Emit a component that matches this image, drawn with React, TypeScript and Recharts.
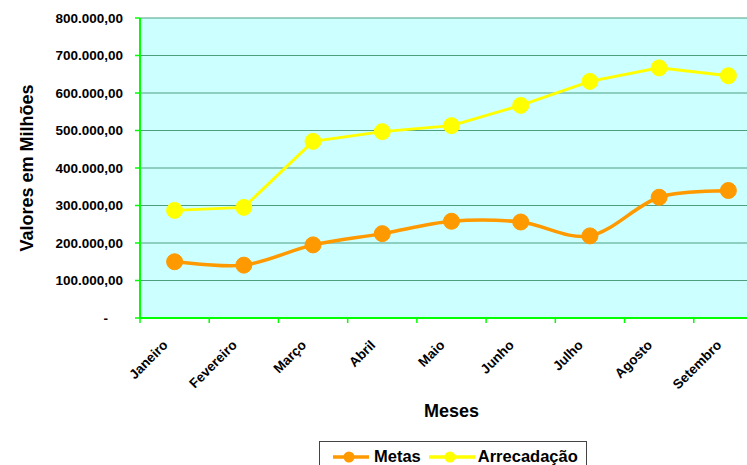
import { LineChart, Line, XAxis, YAxis, CartesianGrid, Legend, Label } from 'recharts'

const MONTHS = ['Janeiro', 'Fevereiro', 'Março', 'Abril', 'Maio', 'Junho', 'Julho', 'Agosto', 'Setembro']
const METAS = [150000, 141000, 195000, 225000, 258000, 256000, 219000, 322000, 340000]
const ARRECADACAO = [287000, 295000, 471000, 497000, 513000, 567000, 631000, 667000, 646000]
const Y_TICKS = [0, 100000, 200000, 300000, 400000, 500000, 600000, 700000, 800000]

const SERIES = [
  { key: 'metas', name: 'Metas', color: '#FF9900' },
  { key: 'arrecadacao', name: 'Arrecadação', color: '#FFFF00' },
]

const FONT = "'Liberation Sans', Arial, sans-serif"
const AXIS_GREEN = '#00FF00'
const GRID = '#4E9F80'

// one row per month, placed in the middle of its slot on a 0..n axis
const data = MONTHS.map((month, i) => ({
  pos: i + 0.5,
  month,
  metas: METAS[i],
  arrecadacao: ARRECADACAO[i],
}))
// integer ticks = slot boundaries (tick marks), half ticks = month labels
const xTicks = Array.from({ length: MONTHS.length * 2 + 1 }, (_, i) => i / 2)

const fmtValue = (v: number) => {
  const int = Math.round(v).toString().replace(/\B(?=(\d{3})+(?!\d))/g, '.')
  return `${int},00`
}

// Excel style smoothed line (cardinal / catmull-rom bezier)
const smoothCurve = (context: any) => {
  let pts: [number, number][] = []
  return {
    areaStart() {},
    areaEnd() {},
    lineStart() {
      pts = []
    },
    point(x: number, y: number) {
      pts.push([+x, +y])
    },
    lineEnd() {
      if (!pts.length) return
      context.moveTo(pts[0][0], pts[0][1])
      for (let i = 0; i < pts.length - 1; i++) {
        const p0 = pts[i - 1] || pts[i]
        const p1 = pts[i]
        const p2 = pts[i + 1]
        const p3 = pts[i + 2] || p2
        const t = 1 / 6
        context.bezierCurveTo(
          p1[0] + (p2[0] - p0[0]) * t,
          p1[1] + (p2[1] - p0[1]) * t,
          p2[0] - (p3[0] - p1[0]) * t,
          p2[1] - (p3[1] - p1[1]) * t,
          p2[0],
          p2[1]
        )
      }
    },
  }
}

function MonthTick({ x, y, payload }: any) {
  const v = payload.value
  if (Number.isInteger(v)) {
    return <line x1={x} y1={y} x2={x} y2={y + 5} stroke={AXIS_GREEN} strokeWidth={1.5} />
  }
  const tx = x - 6
  const ty = y + 28
  return (
    <text
      x={tx}
      y={ty}
      transform={`rotate(-45, ${tx}, ${ty})`}
      textAnchor="end"
      fontSize={13.5}
      fontWeight="bold"
      fontFamily={FONT}
      fill="#000"
    >
      {MONTHS[Math.floor(v)]}
    </text>
  )
}

function ValueTick({ x, y, payload }: any) {
  const v = payload.value
  return (
    <text
      x={v === 0 ? x - 15 : x}
      y={y}
      dy="0.35em"
      textAnchor="end"
      fontSize={13.5}
      fontWeight="bold"
      fontFamily={FONT}
      fill="#000"
    >
      {v === 0 ? '-' : fmtValue(v)}
    </text>
  )
}

function LegendBox() {
  return (
    <div
      style={{
        display: 'flex',
        alignItems: 'center',
        boxSizing: 'border-box',
        width: 268,
        height: 31,
        border: '1px solid #444',
        background: '#fff',
        paddingLeft: 13,
        fontFamily: FONT,
        fontWeight: 'bold',
        fontSize: 16.5,
        color: '#000',
      }}
    >
      {SERIES.map((s, i) => {
        const w = i === 0 ? 36 : 46
        return (
          <span key={s.key} style={{ display: 'flex', alignItems: 'center', marginRight: i === 0 ? 8 : 0 }}>
            <svg width={w} height={18}>
              <line x1={0} y1={9} x2={w} y2={9} stroke={s.color} strokeWidth={3.5} />
              <circle cx={w / 2 - 2} cy={9} r={5.5} fill={s.color} />
            </svg>
            <span style={{ marginLeft: i === 0 ? 5 : 3 }}>{s.name}</span>
          </span>
        )
      })}
    </div>
  )
}

export default function App() {
  return (
    <div style={{ position: 'fixed', left: 0, top: 0, width: 747, height: 465, overflow: 'hidden', background: '#fff' }}>
      <LineChart width={780} height={480} data={data} margin={{ top: 18, right: 17, bottom: 62, left: 0 }}>
        <CartesianGrid fill="#CCFFFF" stroke={GRID} vertical={false} />
        <XAxis
          dataKey="pos"
          type="number"
          domain={[0, MONTHS.length]}
          ticks={xTicks}
          interval={0}
          tick={<MonthTick />}
          tickLine={false}
          tickSize={0}
          tickMargin={0}
          height={100}
          axisLine={{ stroke: AXIS_GREEN, strokeWidth: 2 }}
        >
          <Label
            content={({ viewBox }: any) => (
              <text
                x={viewBox.x + viewBox.width / 2}
                y={viewBox.y + 99}
                textAnchor="middle"
                fontSize={18}
                fontWeight="bold"
                fontFamily={FONT}
                fill="#000"
              >
                Meses
              </text>
            )}
          />
        </XAxis>
        <YAxis
          width={140}
          domain={[0, 800000]}
          ticks={Y_TICKS}
          interval={0}
          tick={<ValueTick />}
          tickSize={5}
          tickMargin={12}
          tickLine={{ stroke: AXIS_GREEN, strokeWidth: 1.5 }}
          axisLine={{ stroke: AXIS_GREEN, strokeWidth: 2 }}
        >
          <Label
            content={({ viewBox }: any) => {
              const cx = viewBox.x + 33
              const cy = viewBox.y + viewBox.height / 2
              return (
                <text
                  x={cx}
                  y={cy}
                  transform={`rotate(-90, ${cx}, ${cy})`}
                  textAnchor="middle"
                  fontSize={18}
                  fontWeight="bold"
                  fontFamily={FONT}
                  fill="#000"
                >
                  Valores em Milhões
                </text>
              )
            }}
          />
        </YAxis>
        <Line
          dataKey="metas"
          name="Metas"
          type={smoothCurve as any}
          stroke="#FF9900"
          strokeWidth={3.5}
          dot={{ r: 8, fill: '#FF9900', stroke: '#FF9900', strokeWidth: 1 }}
          activeDot={false}
          isAnimationActive={false}
        />
        <Line
          dataKey="arrecadacao"
          name="Arrecadação"
          type="linear"
          stroke="#FFFF00"
          strokeWidth={3}
          dot={{ r: 8, fill: '#FFFF00', stroke: '#FFFF00', strokeWidth: 1 }}
          activeDot={false}
          isAnimationActive={false}
        />
        <Legend
          layout="horizontal"
          verticalAlign="middle"
          align="center"
          wrapperStyle={{ left: 319, top: 441, width: 'auto' }}
          content={<LegendBox />}
        />
      </LineChart>
    </div>
  )
}
